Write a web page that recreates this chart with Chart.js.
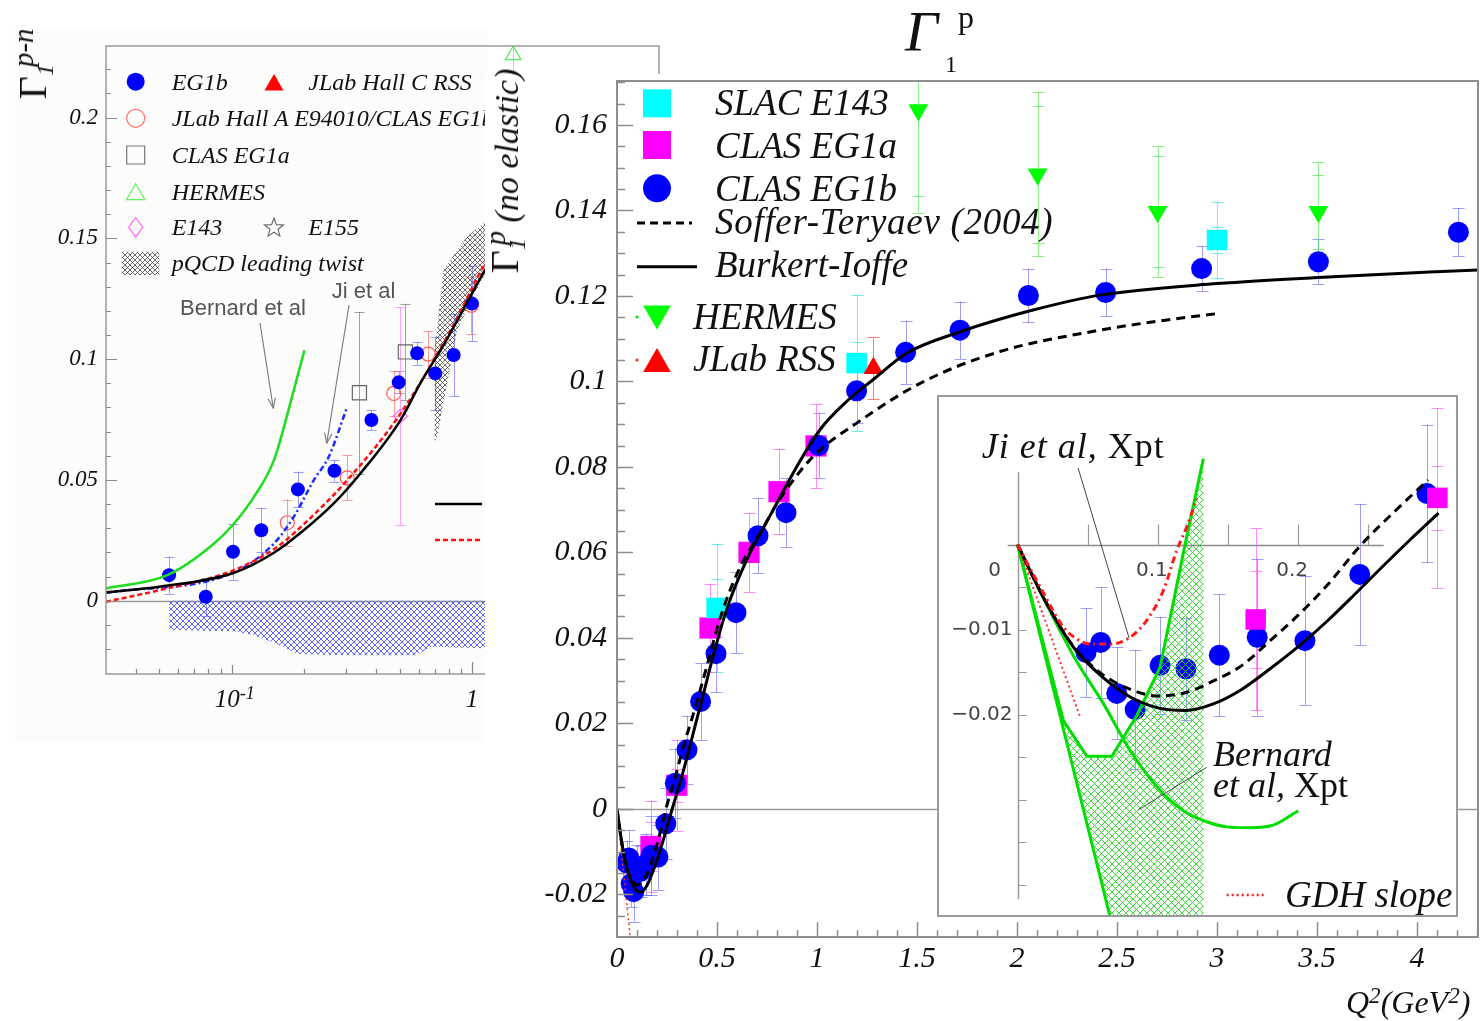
<!DOCTYPE html>
<html lang="en">
<head>
<meta charset="utf-8">
<title>Gamma_1 p and p-n</title>
<script src="https://cdn.jsdelivr.net/npm/chart.js@4.4.1/dist/chart.umd.min.js"></script>
<style>
    body { margin: 0; width: 1483px; height: 1021px; position: relative; overflow: hidden; background: #fff; font-family: "Liberation Serif", serif; }
    .txt { position: absolute; white-space: nowrap; line-height: 1; color: #111; }
    .it { font-style: italic; }
    .rm { font-style: normal; }
    .up { position: relative; top: -0.45em; font-size: 0.72em; }
    .dn { position: relative; top: 0.3em; font-size: 0.6em; }
    #leftBox { position: absolute; left: 15px; top: 30px; width: 472px; height: 712px; background: #fcfcfa; }
    #leftChart { position: absolute; left: 0; top: 0; }
    #mainWrap { position: absolute; left: 485px; top: 74px; width: 998px; height: 947px; background: #fff; }
    #mainChart { position: absolute; left: 487px; top: 44px; }
    #insetWrap { position: absolute; left: 937px; top: 395px; width: 521px; height: 522px; background: #fff; }
</style>
</head>
<body>
<div id="leftBox"></div>
<canvas id="leftChart" width="700" height="740"></canvas>
<div id="leftLayer"></div>
<div id="mainWrap"></div>
<canvas id="mainChart" width="1020" height="977"></canvas>
<div id="mainLayer"></div>
<div id="insetWrap"><canvas id="insetChart" width="521" height="522"></canvas></div>
<div id="insetLayer"></div>
<script>
const SERIF = '"Liberation Serif", "Times New Roman", serif';
const SANS = '"DejaVu Sans", sans-serif';

// ---------- left panel: Gamma_1^(p-n), log Q2 axis ----------
const pnYTicks = [0, 0.05, 0.1, 0.15, 0.2];
const pnXLabelValues = [0.1, 1];
const pnXLabelText = ['10<span class="up">-1</span>', '1'];

const pnEg1bQ2 = [0.0549, 0.078, 0.1013, 0.1328, 0.1886, 0.2677, 0.3815, 0.4955, 0.591, 0.7035, 0.839, 1.0];
const pnEg1bG = [0.0106, 0.0017, 0.0203, 0.0292, 0.0461, 0.0538, 0.0748, 0.0904, 0.1024, 0.0941, 0.1017, 0.123];
const pnEg1bErr = [0.0076, 0.0078, 0.0116, 0.009, 0.0074, 0.0045, 0.0041, 0.0045, 0.0047, 0.015, 0.017, 0.0155];

const pnHallAQ2 = [0.1704, 0.3026, 0.4723, 0.6566, 0.994];
const pnHallAG = [0.0323, 0.0509, 0.0858, 0.1021, 0.1223];
const pnHallAErr = [0.0096, 0.0093, 0.0093, 0.0097, 0.0117];

const pnEg1aQ2 = [0.3401, 0.5283];
const pnEg1aG = [0.0861, 0.103];
const pnEg1aErr = [0.0335, 0.02];

const pnE143Q2 = [0.5035];
const pnE143G = [0.0764];
const pnE143Err = [0.045];

const pnHermesQ2 = [1.484];
const pnHermesG = [0.2258];
const pnHermesErr = [0.03];

const pnBernardQ2 = [0.03, 0.054, 0.0845, 0.1023, 0.1238, 0.1499, 0.1814, 0.2008];
const pnBernardG = [0.0051, 0.0106, 0.0237, 0.032, 0.043, 0.0582, 0.0872, 0.1037];

const pnBurkertQ2 = [0.03, 0.05, 0.1023, 0.1499, 0.2, 0.2659, 0.3433, 0.5043, 0.6095, 0.7614, 1.1125, 1.3];
const pnBurkertG = [0.0035, 0.0058, 0.0116, 0.0199, 0.0293, 0.0403, 0.0527, 0.0748, 0.09, 0.1058, 0.1355, 0.147];

const pnSofferQ2 = [0.03, 0.05, 0.1023, 0.1547, 0.2, 0.3026, 0.5043, 0.7866, 1.11, 1.3];
const pnSofferG = [-0.0004, 0.0044, 0.0127, 0.0223, 0.0318, 0.0499, 0.0775, 0.1092, 0.138, 0.15];

const pnJiQ2 = [0.03, 0.1023, 0.1499, 0.1814, 0.2196, 0.2535, 0.3026];
const pnJiG = [0.0033, 0.0118, 0.0237, 0.0348, 0.0499, 0.0596, 0.0803];

// pQCD leading twist band and EG1b systematic band (closed outlines)
const pqcdQ2 = [0.70, 0.70, 0.76, 0.95, 1.11, 1.5, 1.5, 1.2, 1.0, 0.867, 0.7156, 0.70];
const pqcdG = [0.066, 0.104, 0.1368, 0.1506, 0.156, 0.165, 0.145, 0.14, 0.125, 0.112, 0.0678, 0.066];
const pnSysQ2 = [0.055, 0.055, 0.1023, 0.1238, 0.1645, 0.1876, 0.3, 0.59, 0.67, 1.1, 6, 6];
const pnSysG = [0, -0.0121, -0.0126, -0.0142, -0.019, -0.022, -0.0225, -0.0225, -0.019, -0.0196, -0.0196, 0];

// ---------- main panel: Gamma_1^p (no elastic) ----------
const mainXTicks = [0, 0.5, 1, 1.5, 2, 2.5, 3, 3.5, 4];
const mainYTicks = [-0.02, 0, 0.02, 0.04, 0.06, 0.08, 0.1, 0.12, 0.14, 0.16];

const eg1bQ2 = [0.0488, 0.0593, 0.0707, 0.0838, 0.1016, 0.12, 0.1438, 0.1708, 0.2048, 0.2439, 0.2918, 0.35, 0.418, 0.495, 0.595, 0.705, 0.845, 1.008, 1.198, 1.443, 1.715, 2.057, 2.443, 2.923, 3.507, 4.207];
const eg1bG = [-0.0127, -0.0115, -0.0175, -0.0194, -0.0142, -0.0146, -0.013, -0.0109, -0.0113, -0.0035, 0.006, 0.0138, 0.0251, 0.0363, 0.0459, 0.0639, 0.0693, 0.085, 0.0978, 0.1068, 0.112, 0.1201, 0.1208, 0.1264, 0.128, 0.1349];
const eg1bErr = [0.0052, 0.0065, 0.0054, 0.007, 0.0057, 0.006, 0.0072, 0.0092, 0.0076, 0.0083, 0.0081, 0.008, 0.009, 0.009, 0.0095, 0.0088, 0.008, 0.0077, 0.0075, 0.0074, 0.0067, 0.0063, 0.0056, 0.0052, 0.0053, 0.0056];

const eg1aQ2 = [0.1697, 0.2992, 0.465, 0.66, 0.81, 0.995];
const eg1aG = [-0.0088, 0.0055, 0.0423, 0.06, 0.0742, 0.0849];
const eg1aErr = [0.0107, 0.0106, 0.0104, 0.0092, 0.01, 0.0098];
const eg1aSys = [0.0057, 0.0038, 0, 0, 0, 0];

const e143Q2 = [0.498, 1.198, 3.0];
const e143G = [0.047, 0.1043, 0.1331];
const e143Err = [0.015, 0.016, 0.009];
const e143Sys = [0.0068, 0.005, 0.003];

const hermesQ2 = [1.507, 2.103, 2.703, 3.507];
const hermesG = [0.1635, 0.1485, 0.1397, 0.1397];
const hermesErr = [0.024, 0.0192, 0.0153, 0.0117];
const hermesSys = [0.02, 0.016, 0.013, 0.0086];

const rssQ2 = [1.282];
const rssG = [0.1031];
const rssErr = [0.0072];

const burkertQ2 = [0, 0.02, 0.04, 0.06, 0.08, 0.1, 0.12, 0.14, 0.16, 0.18, 0.2, 0.22, 0.24, 0.26, 0.28, 0.3, 0.34, 0.38, 0.43, 0.48, 0.548, 0.648, 0.782, 0.898, 1.015, 1.148, 1.28, 1.448, 1.715, 2.08, 2.415, 3.0, 3.58, 4.305];
const burkertG = [0, -0.0067, -0.0121, -0.0155, -0.0179, -0.0192, -0.0195, -0.0187, -0.017, -0.0146, -0.012, -0.0091, -0.0059, -0.0026, 0.0006, 0.0037, 0.0103, 0.0175, 0.0265, 0.0356, 0.0466, 0.0582, 0.07, 0.08, 0.0887, 0.0953, 0.1004, 0.1066, 0.1116, 0.1167, 0.1202, 0.1229, 0.1245, 0.1261];

const sofferQ2 = [0, 0.02, 0.04, 0.06, 0.08, 0.1, 0.12, 0.14, 0.16, 0.18, 0.2, 0.22, 0.245, 0.27, 0.2925, 0.33, 0.39, 0.45, 0.515, 0.615, 0.715, 0.815, 0.98, 1.2, 1.53, 1.915, 2.415, 2.75, 3.005];
const sofferG = [0, -0.0067, -0.012, -0.0152, -0.017, -0.0178, -0.0174, -0.016, -0.0142, -0.0113, -0.0083, -0.0049, 0, 0.0041, 0.0076, 0.0142, 0.0235, 0.0335, 0.0445, 0.0565, 0.0645, 0.0725, 0.0824, 0.0903, 0.0999, 0.107, 0.112, 0.1144, 0.1159];

const gdhQ2 = [0, 0.0447, 0.068];
const gdhG = [0, -0.0203, -0.0309];

// ---------- inset: low Q2 ----------
const insetXLabels = [0.1, 0.2];
const insetYLabels = [-0.01, -0.02];

const jiQ2 = [0, 0.0162, 0.0327, 0.0423, 0.0517, 0.066, 0.0802, 0.0921, 0.1039, 0.1134, 0.1206, 0.1277];
const jiG = [0, -0.005, -0.0097, -0.0111, -0.0117, -0.0117, -0.0109, -0.0089, -0.0054, -0.0007, 0.0021, 0.0054];

const bernardAQ2 = [0, 0.0678];
const bernardAG = [0, -0.045];
const bernardBQ2 = [0, 0.0327, 0.0494, 0.0672, 0.085, 0.1016, 0.1194, 0.1324];
const bernardBG = [0, -0.0207, -0.0249, -0.0249, -0.0201, -0.0144, 0, 0.0101];
const bernardCQ2 = [0, 0.02, 0.042, 0.0612, 0.0802, 0.1016, 0.1181, 0.1348, 0.149, 0.1656, 0.1822, 0.2];
const bernardCG = [0, -0.0068, -0.0137, -0.0187, -0.0242, -0.0289, -0.0313, -0.0326, -0.0332, -0.0333, -0.033, -0.0313];
const bernardBandQ2 = [0, 0.0678, 0.1324, 0.1324, 0.1194, 0.1016, 0.085, 0.0672, 0.0494, 0.0327, 0];
const bernardBandG = [0, -0.045, -0.045, 0.0101, 0, -0.0144, -0.0201, -0.0249, -0.0249, -0.0207, 0];

// ---------- helpers ----------
function pts(xs, ys) {
    return xs.map((x, i) => ({ x: x, y: ys[i] }));
}

function makeHatch(color, size, lw) {
    const c = document.createElement('canvas');
    c.width = size;
    c.height = size;
    const g = c.getContext('2d');
    g.strokeStyle = color;
    g.lineWidth = lw;
    g.beginPath();
    g.moveTo(-1, -1); g.lineTo(size + 1, size + 1);
    g.moveTo(size + 1, -1); g.lineTo(-1, size + 1);
    g.stroke();
    return g.createPattern(c, 'repeat');
}

function curve(xs, ys, color, width, dash, smooth) {
    return {
        data: pts(xs, ys), showLine: true, pointRadius: 0,
        borderColor: color, borderWidth: width, borderDash: dash || [],
        cubicInterpolationMode: smooth ? 'monotone' : 'default', tension: 0
    };
}

function markers(xs, ys, style, radius, fill, stroke, extra) {
    return Object.assign({
        data: pts(xs, ys), showLine: false, pointStyle: style, pointRadius: radius,
        pointBackgroundColor: fill, pointBorderColor: stroke || fill, pointBorderWidth: stroke ? 1.2 : 0
    }, extra || {});
}

function polygon(xs, ys, pattern) {
    return { data: pts(xs, ys), showLine: false, pointRadius: 0, polyFill: pattern };
}

function mark(ctx, style, x, y, r, fill, stroke, lw) {
    ctx.save();
    ctx.beginPath();
    if (style === 'circle') {
        ctx.arc(x, y, r, 0, 2 * Math.PI);
    } else if (style === 'square') {
        ctx.rect(x - r, y - r, 2 * r, 2 * r);
    } else if (style === 'up' || style === 'down') {
        const s = style === 'up' ? 1 : -1;
        ctx.moveTo(x, y - s * r);
        ctx.lineTo(x + r * 0.866, y + s * r / 2);
        ctx.lineTo(x - r * 0.866, y + s * r / 2);
        ctx.closePath();
    } else if (style === 'diamond') {
        ctx.moveTo(x, y - r * 1.4); ctx.lineTo(x + r, y);
        ctx.lineTo(x, y + r * 1.4); ctx.lineTo(x - r, y);
        ctx.closePath();
    } else if (style === 'star') {
        for (let i = 0; i < 10; i++) {
            const rr = i % 2 ? r * 0.42 : r;
            const ang = -Math.PI / 2 + i * Math.PI / 5;
            const px = x + rr * Math.cos(ang), py = y + rr * Math.sin(ang);
            i ? ctx.lineTo(px, py) : ctx.moveTo(px, py);
        }
        ctx.closePath();
    }
    if (fill) { ctx.fillStyle = fill; ctx.fill(); }
    if (stroke) { ctx.strokeStyle = stroke; ctx.lineWidth = lw || 1; ctx.stroke(); }
    ctx.restore();
}

function segment(ctx, x1, y1, x2, y2, color, width, dash) {
    ctx.save();
    ctx.strokeStyle = color;
    ctx.lineWidth = width;
    ctx.setLineDash(dash || []);
    ctx.beginPath();
    ctx.moveTo(x1, y1);
    ctx.lineTo(x2, y2);
    ctx.stroke();
    ctx.restore();
}

function arrow(ctx, x1, y1, x2, y2) {
    segment(ctx, x1, y1, x2, y2, '#777', 1.1);
    const a = Math.atan2(y2 - y1, x2 - x1);
    [0.35, -0.35].forEach(d => {
        segment(ctx, x2, y2, x2 - 11 * Math.cos(a + d), y2 - 11 * Math.sin(a + d), '#777', 1.1);
    });
}

// inward tick marks: lists of [value, length]
function drawTicks(chart, xList, yList, color, lw) {
    const ctx = chart.ctx, a = chart.chartArea;
    ctx.save();
    ctx.strokeStyle = color;
    ctx.lineWidth = lw;
    ctx.beginPath();
    xList.forEach(([v, len]) => {
        const x = Math.round(chart.scales.x.getPixelForValue(v)) + 0.5;
        ctx.moveTo(x, a.bottom); ctx.lineTo(x, a.bottom - len);
    });
    yList.forEach(([v, len]) => {
        const y = Math.round(chart.scales.y.getPixelForValue(v)) + 0.5;
        ctx.moveTo(a.left, y); ctx.lineTo(a.left + len, y);
    });
    ctx.stroke();
    ctx.restore();
}

function clipArea(ctx, a) {
    ctx.beginPath();
    ctx.rect(a.left, a.top, a.right - a.left, a.bottom - a.top);
    ctx.clip();
}

// error bars (stat outer caps + optional inner caps), under the markers
const errorBars = {
    id: 'errorBars',
    beforeDatasetsDraw(chart) {
        const ctx = chart.ctx, sx = chart.scales.x, sy = chart.scales.y;
        ctx.save();
        clipArea(ctx, chart.chartArea);
        chart.data.datasets.forEach(ds => {
            if (!ds.err) return;
            const cap = ds.cap || 6;
            ctx.strokeStyle = ds.errColor;
            ctx.lineWidth = 1;
            ds.data.forEach((p, i) => {
                const x = Math.round(sx.getPixelForValue(p.x)) + 0.5;
                const bars = [ds.err[i]];
                if (ds.sys && ds.sys[i]) bars.push(ds.sys[i]);
                ctx.beginPath();
                ctx.moveTo(x, sy.getPixelForValue(p.y + ds.err[i]));
                ctx.lineTo(x, sy.getPixelForValue(p.y - ds.err[i]));
                bars.forEach(e => {
                    const y1 = Math.round(sy.getPixelForValue(p.y + e)) + 0.5;
                    const y2 = Math.round(sy.getPixelForValue(p.y - e)) + 0.5;
                    ctx.moveTo(x - cap, y1); ctx.lineTo(x + cap, y1);
                    ctx.moveTo(x - cap, y2); ctx.lineTo(x + cap, y2);
                });
                ctx.stroke();
            });
        });
        ctx.restore();
    }
};

// hatched closed bands, drawn in dataset order
const polyFill = {
    id: 'polyFill',
    afterDatasetDraw(chart, args) {
        const ds = chart.data.datasets[args.index];
        if (!ds.polyFill) return;
        const ctx = chart.ctx;
        ctx.save();
        clipArea(ctx, chart.chartArea);
        ctx.beginPath();
        args.meta.data.forEach((el, i) => i ? ctx.lineTo(el.x, el.y) : ctx.moveTo(el.x, el.y));
        ctx.closePath();
        ctx.fillStyle = ds.polyFill;
        ctx.fill();
        ctx.restore();
    }
};

function zeroLine(chart, color, lw) {
    const ctx = chart.ctx, a = chart.chartArea;
    const y = Math.round(chart.scales.y.getPixelForValue(0)) + 0.5;
    segment(ctx, a.left, y, a.right, y, color, lw);
}

function baseOptions(padding, scales) {
    return {
        responsive: false,
        animation: false,
        devicePixelRatio: 1,
        events: [],
        layout: { padding: padding, autoPadding: false },
        plugins: { legend: { display: false }, tooltip: { enabled: false } },
        scales: scales
    };
}

function addText(layer, html, x, base, size, cls, center) {
    const d = document.createElement('div');
    d.className = 'txt ' + (cls || '');
    d.innerHTML = html;
    d.style.fontSize = size + 'px';
    d.style.left = x + 'px';
    d.style.top = (base - 0.8375 * size) + 'px';
    if (center) d.style.transform = 'translateX(-50%)';
    layer.appendChild(d);
    return d;
}

function addRotated(layer, html, cx, cy, size) {
    const d = document.createElement('div');
    d.className = 'txt';
    d.innerHTML = html;
    d.style.fontSize = size + 'px';
    d.style.left = cx + 'px';
    d.style.top = cy + 'px';
    d.style.transform = 'translate(-50%, -50%) rotate(-90deg)';
    layer.appendChild(d);
    return d;
}

Chart.defaults.font.family = SERIF;

const greenHatch = makeHatch('rgba(40, 215, 40, 0.9)', 7, 1);
const blueHatch = makeHatch('rgba(70, 70, 255, 0.85)', 6, 1);
const greyHatch = makeHatch('rgba(60, 60, 60, 0.75)', 5, 1);

// ---------- left chart ----------
const pnXTickList = [];
[0.01, 0.1, 1].forEach(dec => {
    for (let k = 1; k <= 9; k++) {
        const v = k * dec;
        if (v <= 0.03 || v > 6) continue;
        pnXTickList.push([v, k === 1 ? (dec === 1 ? 12 : 9) : 5]);
    }
});
const pnYTickList = [];
for (let k = -2; k <= 22; k++) pnYTickList.push([k / 100, k % 5 === 0 ? 11 : 5]);

const leftDecor = {
    id: 'leftDecor',
    beforeDatasetsDraw(chart) {
        zeroLine(chart, '#9a9a9a', 1.5);
    },
    afterDatasetsDraw(chart) {
        const ctx = chart.ctx, a = chart.chartArea;
        ctx.save();
        ctx.strokeStyle = '#9a9a9a';
        ctx.lineWidth = 1.5;
        ctx.strokeRect(a.left, a.top, a.right - a.left, a.bottom - a.top);
        ctx.restore();
        drawTicks(chart, pnXTickList, pnYTickList, '#8a8a8a', 1.2);

        // legend symbols
        mark(ctx, 'circle', 135.7, 81.7, 9, '#0000ff');
        mark(ctx, 'up', 274, 85, 11, '#ff0000');
        mark(ctx, 'circle', 135.7, 118.3, 9, null, '#ff7070', 1.2);
        mark(ctx, 'square', 135.7, 155, 9, null, '#777', 1.2);
        mark(ctx, 'up', 135.7, 194.4, 10.6, null, '#66ee66', 1.2);
        mark(ctx, 'diamond', 135.7, 227.3, 7, null, '#ff66ff', 1.2);
        mark(ctx, 'star', 274, 228, 10, null, '#666', 1.1);
        ctx.save();
        ctx.fillStyle = greyHatch;
        ctx.fillRect(121.7, 251.7, 37.6, 23.3);
        ctx.restore();

        // pointers to the chiral curves
        arrow(ctx, 260, 323, 273.3, 408.3);
        arrow(ctx, 349, 305, 326.7, 443.3);

        // legend line samples of the cropped second legend
        segment(ctx, 435, 504, 482, 504, '#000', 2.5);
        segment(ctx, 435, 540, 482, 540, '#ff1010', 2.5, [5, 3]);
    }
};

const leftChart = new Chart(document.getElementById('leftChart'), {
    type: 'scatter',
    data: {
        datasets: [
            curve(pnBurkertQ2, pnBurkertG, '#000', 2.5, [], true),
            curve(pnSofferQ2, pnSofferG, '#ff1010', 2.5, [5, 3], true),
            curve(pnJiQ2, pnJiG, '#1a2cff', 2.5, [6, 3, 2, 3], true),
            curve(pnBernardQ2, pnBernardG, '#1edc1e', 2.5, [], true),
            markers(pnEg1bQ2, pnEg1bG, 'circle', 7, '#0000ff', null,
                { err: pnEg1bErr, errColor: 'rgba(90, 90, 255, 0.6)', cap: 5 }),
            markers(pnHallAQ2, pnHallAG, 'circle', 7, 'rgba(0,0,0,0)', '#ff5a5a',
                { err: pnHallAErr, errColor: 'rgba(255, 90, 90, 0.6)', cap: 5 }),
            markers(pnEg1aQ2, pnEg1aG, 'rect', 10, 'rgba(0,0,0,0)', '#666',
                { err: pnEg1aErr, errColor: 'rgba(100, 100, 100, 0.6)', cap: 5 }),
            markers(pnE143Q2, pnE143G, 'rectRot', 7, 'rgba(0,0,0,0)', '#ff66ff',
                { err: pnE143Err, errColor: 'rgba(255, 100, 255, 0.6)', cap: 5 }),
            markers(pnHermesQ2, pnHermesG, 'triangle', 9, 'rgba(0,0,0,0)', '#55ee55',
                { err: pnHermesErr, errColor: 'rgba(80, 230, 80, 0.6)', cap: 5 }),
            polygon(pqcdQ2, pqcdG, greyHatch),
            polygon(pnSysQ2, pnSysG, blueHatch)
        ]
    },
    options: baseOptions({ left: 0, right: 41, top: 46, bottom: 0 }, {
        x: {
            type: 'logarithmic', min: 0.03, max: 6,
            grid: { display: false, drawTicks: false }, border: { display: false },
            ticks: { display: false },
            afterFit: s => { s.height = 66; }
        },
        y: {
            type: 'linear', min: -0.0303, max: 0.2296,
            grid: { display: false, drawTicks: false }, border: { display: false },
            afterBuildTicks: s => { s.ticks = pnYTicks.map(v => ({ value: v })); },
            afterFit: s => { s.width = 106; },
            ticks: {
                padding: 8, autoSkip: false, color: '#111',
                font: { family: SERIF, size: 23, style: 'italic' },
                callback: v => String(Math.round(v * 100) / 100)
            }
        }
    }),
    plugins: [errorBars, polyFill, leftDecor]
});

// ---------- main chart ----------
const OX = 487, OY = 44;
const mainXTickList = [];
for (let i = 1; i <= 43; i++) mainXTickList.push([i / 10, i % 5 === 0 ? 15 : 7]);
const mainYTickList = [];
for (let k = -5; k <= 34; k++) mainYTickList.push([k * 0.005, k % 4 === 0 ? 16 : 8]);

const mainDecor = {
    id: 'mainDecor',
    beforeDatasetsDraw(chart) {
        zeroLine(chart, '#9a9a9a', 1.5);
    },
    afterDatasetsDraw(chart) {
        const ctx = chart.ctx, a = chart.chartArea;
        ctx.save();
        ctx.strokeStyle = '#8e8e8e';
        ctx.lineWidth = 2;
        ctx.strokeRect(a.left, a.top, a.right - a.left, a.bottom - a.top);
        ctx.restore();
        drawTicks(chart, mainXTickList, mainYTickList, '#8e8e8e', 1.5);

        // legend symbols
        mark(ctx, 'square', 657 - OX, 103.3 - OY, 14, '#00ffff');
        mark(ctx, 'square', 657 - OX, 145 - OY, 14, '#ff00ff');
        mark(ctx, 'circle', 657 - OX, 188.3 - OY, 14, '#0000ff');
        segment(ctx, 637 - OX, 223 - OY, 692 - OX, 223 - OY, '#000', 3, [8, 5]);
        segment(ctx, 637 - OX, 266.7 - OY, 697 - OX, 266.7 - OY, '#000', 3);
        mark(ctx, 'circle', 637 - OX, 317 - OY, 1.5, '#00dd00');
        mark(ctx, 'down', 657 - OX, 313.5 - OY, 16, '#00ff00');
        mark(ctx, 'circle', 637 - OX, 360 - OY, 1.5, '#ff2020');
        mark(ctx, 'up', 657 - OX, 364 - OY, 16, '#ff0000');
    }
};

const mainChart = new Chart(document.getElementById('mainChart'), {
    type: 'scatter',
    data: {
        datasets: [
            curve(burkertQ2, burkertG, '#000', 3, [], true),
            curve(sofferQ2, sofferG, '#000', 3, [9, 6], true),
            curve(gdhQ2, gdhG, '#ff3030', 1.5, [2, 3], false),
            markers(eg1bQ2, eg1bG, 'circle', 10.5, '#0000ff', null,
                { err: eg1bErr, errColor: 'rgba(80, 80, 255, 0.55)', cap: 6 }),
            markers(rssQ2, rssG, 'triangle', 11.5, '#ff0000', null,
                { err: rssErr, errColor: 'rgba(255, 70, 70, 0.7)', cap: 6 }),
            markers(hermesQ2, hermesG, 'triangle', 11.5, '#00ff00', null,
                { pointRotation: 180, err: hermesErr, sys: hermesSys, errColor: 'rgba(60, 230, 60, 0.6)', cap: 6 }),
            markers(e143Q2, e143G, 'rect', 14.5, '#00ffff', null,
                { err: e143Err, sys: e143Sys, errColor: 'rgba(60, 235, 235, 0.75)', cap: 6 }),
            markers(eg1aQ2, eg1aG, 'rect', 15, '#ff00ff', null,
                { err: eg1aErr, sys: eg1aSys, errColor: 'rgba(255, 80, 255, 0.65)', cap: 6 })
        ]
    },
    options: baseOptions({ left: 0, right: 29, top: 37, bottom: 0 }, {
        x: {
            type: 'linear', min: 0, max: 4.305,
            grid: { display: false, drawTicks: false }, border: { display: false },
            afterBuildTicks: s => { s.ticks = mainXTicks.map(v => ({ value: v })); },
            afterFit: s => { s.height = 84; },
            ticks: {
                padding: 4, autoSkip: false, maxRotation: 0, color: '#111',
                font: { family: SERIF, size: 30, style: 'italic' },
                callback: v => String(v)
            }
        },
        y: {
            type: 'linear', min: -0.03, max: 0.1703,
            grid: { display: false, drawTicks: false }, border: { display: false },
            afterBuildTicks: s => { s.ticks = mainYTicks.map(v => ({ value: v })); },
            afterFit: s => { s.width = 130; },
            ticks: {
                padding: 10, autoSkip: false, color: '#111',
                font: { family: SERIF, size: 30, style: 'italic' },
                callback: v => String(Math.round(v * 100) / 100)
            }
        }
    }),
    plugins: [errorBars, mainDecor]
});

// ---------- inset chart ----------
const insetXTickList = [0.05, 0.1, 0.15, 0.2, 0.25];
const insetYTickList = [-0.005, -0.01, -0.015, -0.02, -0.025, -0.03, -0.035, -0.04];

const insetDecor = {
    id: 'insetDecor',
    beforeDatasetsDraw(chart) {
        const ctx = chart.ctx, sx = chart.scales.x, sy = chart.scales.y;
        const x0 = Math.round(sx.getPixelForValue(0)) + 0.5;
        const y0 = Math.round(sy.getPixelForValue(0)) + 0.5;
        segment(ctx, sx.getPixelForValue(-0.007), y0, sx.getPixelForValue(0.261), y0, '#8a8a8a', 1.5);
        segment(ctx, x0, sy.getPixelForValue(0.0085), x0, sy.getPixelForValue(-0.0417), '#9a9a9a', 1.5);
        ctx.save();
        ctx.strokeStyle = '#9a9a9a';
        ctx.lineWidth = 1.2;
        ctx.beginPath();
        insetXTickList.forEach(v => {
            const x = Math.round(sx.getPixelForValue(v)) + 0.5;
            ctx.moveTo(x, y0); ctx.lineTo(x, y0 - 21);
        });
        insetYTickList.forEach(v => {
            const y = Math.round(sy.getPixelForValue(v)) + 0.5;
            ctx.moveTo(x0, y); ctx.lineTo(x0 + 8, y);
        });
        ctx.stroke();
        ctx.fillStyle = '#444';
        ctx.font = '20px ' + SANS;
        ctx.textBaseline = 'middle';
        ctx.textAlign = 'center';
        ctx.fillText('0', x0 - 24, y0 + 25);
        insetXLabels.forEach(v => ctx.fillText(String(v), sx.getPixelForValue(v) - 6, y0 + 25));
        ctx.textAlign = 'right';
        insetYLabels.forEach(v => ctx.fillText('\u2212' + String(-v), x0 - 6, sy.getPixelForValue(v)));
        ctx.restore();
    },
    afterDatasetsDraw(chart) {
        const ctx = chart.ctx, sx = chart.scales.x, sy = chart.scales.y;
        // label pointers
        segment(ctx, sx.getPixelForValue(0.0432), sy.getPixelForValue(0.009),
            sx.getPixelForValue(0.0795), sy.getPixelForValue(-0.011), '#444', 1);
        segment(ctx, sx.getPixelForValue(0.0861), sy.getPixelForValue(-0.0312),
            sx.getPixelForValue(0.1348), sy.getPixelForValue(-0.0262), '#444', 1);
        // GDH slope legend sample
        segment(ctx, 1226.7 - 937, 500, 1266.7 - 937, 500, '#ff2020', 2.5, [2, 3]);
        // frame
        ctx.save();
        ctx.strokeStyle = '#9a9a9a';
        ctx.lineWidth = 2;
        ctx.strokeRect(1, 1, chart.width - 2, chart.height - 2);
        ctx.restore();
    }
};

const lowQ2 = (xs, ys, lim) => [xs.filter(x => x <= lim), ys.filter((y, i) => xs[i] <= lim)];
const [biLowQ2, biLowG] = lowQ2(burkertQ2, burkertG, 0.3);
const [stLowQ2, stLowG] = lowQ2(sofferQ2, sofferG, 0.2925);

const insetChart = new Chart(document.getElementById('insetChart'), {
    type: 'scatter',
    data: {
        datasets: [
            curve(jiQ2, jiG, '#ff1a1a', 3, [7, 4, 2, 4], true),
            curve(biLowQ2, biLowG, '#000', 3, [], true),
            curve(stLowQ2, stLowG, '#000', 3, [9, 6], true),
            curve(gdhQ2.slice(0, 2), gdhG.slice(0, 2), '#ff3030', 2, [2, 3], false),
            curve(bernardAQ2, bernardAG, '#00dd00', 3, [], false),
            curve(bernardBQ2, bernardBG, '#00dd00', 3, [], false),
            curve(bernardCQ2, bernardCG, '#00dd00', 3, [], true),
            polygon(bernardBandQ2, bernardBandG, greenHatch),
            markers(eg1aQ2, eg1aG, 'rect', 14.5, '#ff00ff', null,
                { err: eg1aErr, sys: eg1aSys, errColor: 'rgba(255, 80, 255, 0.65)', cap: 6 }),
            markers(eg1bQ2, eg1bG, 'circle', 10.5, '#0000ff', null,
                { err: eg1bErr, errColor: 'rgba(80, 80, 255, 0.55)', cap: 6 })
        ]
    },
    options: baseOptions(0, {
        x: { type: 'linear', min: -0.0574, max: 0.3139, display: false },
        y: { type: 'linear', min: -0.0438, max: 0.0176, display: false }
    }),
    plugins: [errorBars, polyFill, insetDecor]
});

// ---------- text ----------
const leftLayer = document.getElementById('leftLayer');
addText(leftLayer, 'EG1b', 171.7, 90, 24, 'it');
addText(leftLayer, 'JLab Hall C RSS', 308.3, 90, 24, 'it');
addText(leftLayer, 'JLab Hall A E94010/CLAS EG1b', 171.7, 126.5, 24, 'it');
addText(leftLayer, 'CLAS EG1a', 171.7, 163, 24, 'it');
addText(leftLayer, 'HERMES', 171.7, 200, 24, 'it');
addText(leftLayer, 'E143', 171.7, 235.5, 24, 'it');
addText(leftLayer, 'E155', 308.3, 235.5, 24, 'it');
addText(leftLayer, 'pQCD leading twist', 171.7, 271, 24, 'it');
addText(leftLayer, 'Bernard et al', 180, 315, 22, '').style.cssText += 'font-family:"Liberation Sans",sans-serif;color:#555;';
addText(leftLayer, 'Ji et al', 331.7, 298, 22, '').style.cssText += 'font-family:"Liberation Sans",sans-serif;color:#555;';
pnXLabelValues.forEach((v, i) => {
    addText(leftLayer, pnXLabelText[i], leftChart.scales.x.getPixelForValue(v) + (i === 0 ? 3 : 0), 707, 25, 'it', true);
});
addRotated(leftLayer, 'Γ<span class="dn it">1</span><span class="up it" style="margin-left:-0.1em">p-n</span>', 33, 64, 40);

const mainLayer = document.getElementById('mainLayer');
addText(mainLayer, 'Γ', 905, 52, 58, 'it');
addText(mainLayer, '1', 945, 72, 24, '');
addText(mainLayer, 'p', 958, 28, 32, '');
addRotated(mainLayer, 'Γ<span class="dn it">1</span><span class="up it" style="margin-left:-0.25em">p</span><span class="it" style="font-size:0.85em"> (no elastic)</span>', 505, 171, 40);
addText(mainLayer, 'Q<span class="up">2</span>(GeV<span class="up">2</span>)', 1346, 1013, 32, 'it');
addText(mainLayer, 'SLAC E143', 715, 115, 37, 'it');
addText(mainLayer, 'CLAS EG1a', 715, 158, 37, 'it');
addText(mainLayer, 'CLAS EG1b', 715, 201, 37, 'it');
addText(mainLayer, 'Soffer-Teryaev (2004)', 715, 234, 37, 'it').style.letterSpacing = '0.7px';
addText(mainLayer, 'Burkert-Ioffe', 715, 277, 37, 'it');
addText(mainLayer, 'HERMES', 693, 329, 37, 'it');
addText(mainLayer, 'JLab RSS', 693, 371, 37, 'it');

const insetLayer = document.getElementById('insetLayer');
addText(insetLayer, 'Ji et al, <span class="rm">Xpt</span>', 981.7, 458, 36, 'it').style.letterSpacing = '1px';
addText(insetLayer, 'Bernard', 1213, 766, 36, 'it');
addText(insetLayer, 'et al, <span class="rm">Xpt</span>', 1213, 797, 36, 'it');
addText(insetLayer, 'GDH slope', 1285, 907, 37, 'it');
</script>
</body>
</html>
